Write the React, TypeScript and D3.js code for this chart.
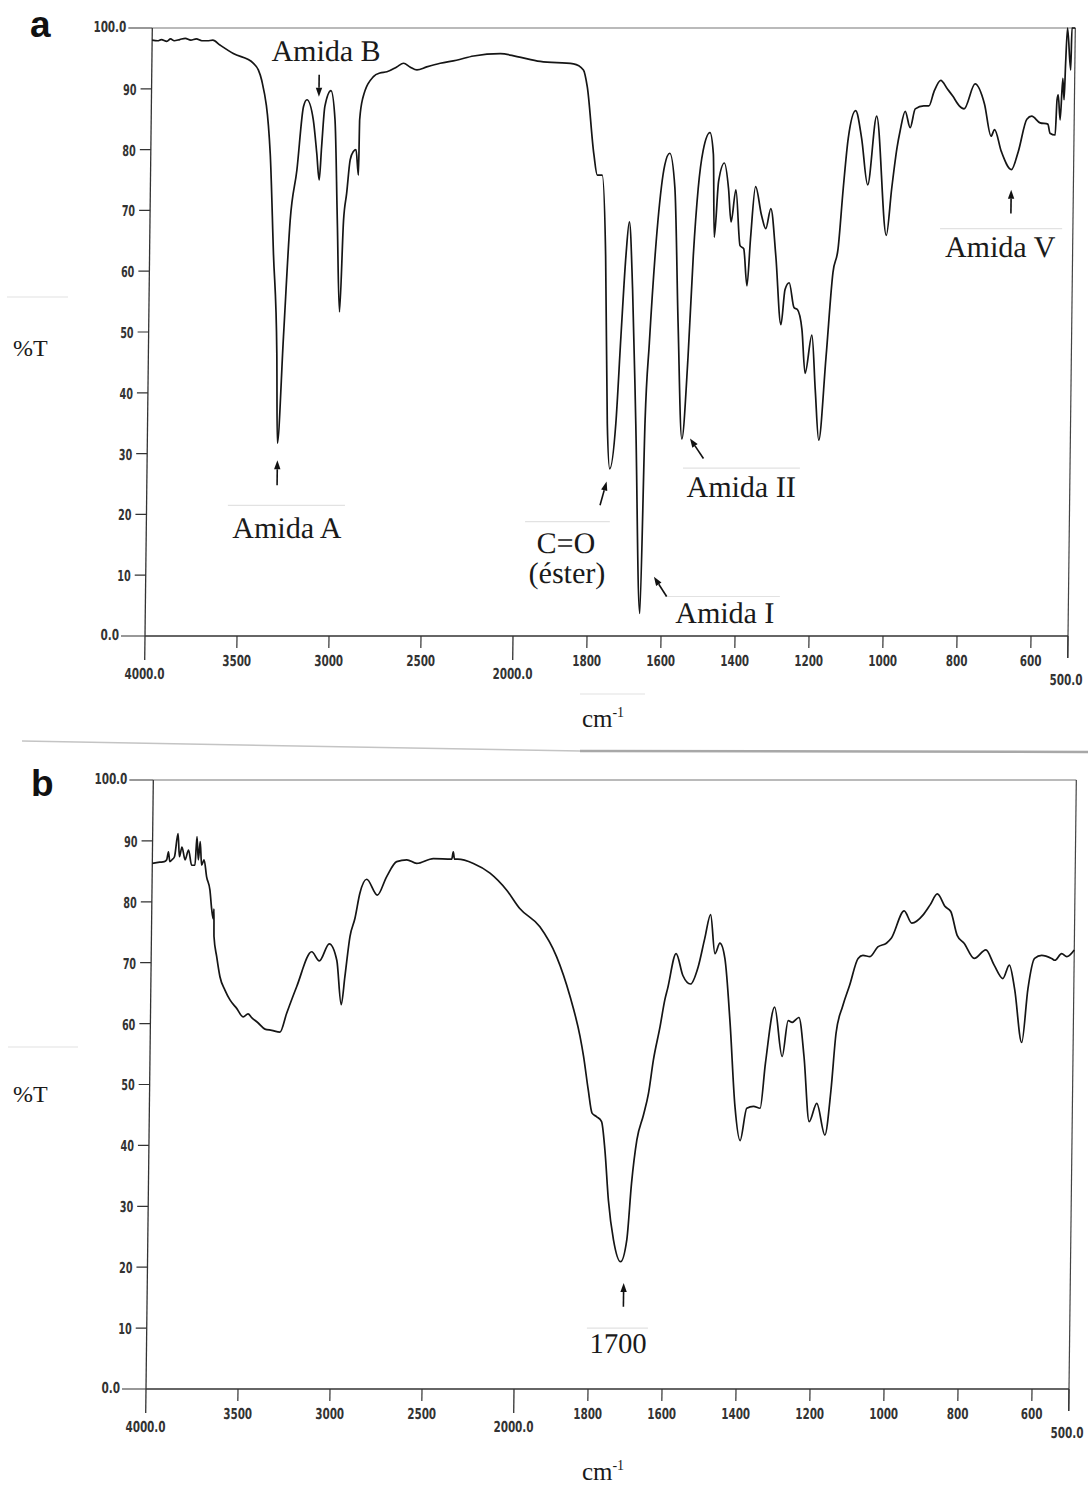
import React from 'react';
import * as d3 from 'd3';

// spectrum a: [wavenumber cm-1, %T]
const spectrumA: [number, number][] = [
  [4000, 98.0], [3970, 97.9], [3950, 98.1], [3920, 97.8], [3900, 98.2], [3880, 97.9], [3850, 98.1],
  [3820, 98.3], [3790, 98.0], [3760, 98.2], [3730, 97.9], [3700, 97.9], [3670, 98.0], [3631, 97.2],
  [3558, 95.8], [3448, 94.2], [3421, 93.1], [3402, 91.4], [3351, 79.4], [3327, 63.0], [3302, 46.5],
  [3293, 31.7], [3267, 49.2], [3238, 68.4], [3205, 76.6], [3173, 87.1], [3155, 88.2], [3119, 84.9],
  [3098, 79.4], [3083, 75.0], [3072, 80.5], [3057, 87.1], [3025, 89.7], [3001, 84.9], [2982, 68.4],
  [2964, 53.3], [2948, 68.4], [2933, 72.8], [2916, 78.3], [2899, 79.7], [2885, 80.0], [2870, 75.8],
  [2867, 84.9], [2852, 88.4], [2795, 92.0], [2760, 92.6], [2722, 92.8], [2669, 93.6], [2632, 94.2],
  [2597, 93.6], [2559, 93.1], [2506, 93.6], [2433, 94.2], [2345, 94.7], [2252, 95.4], [2107, 95.8],
  [2016, 95.3], [1945, 94.5], [1855, 94.1], [1828, 93.1], [1817, 90.3], [1797, 79.2], [1787, 75.8],
  [1774, 75.8], [1762, 62.6], [1752, 34.9], [1744, 27.5], [1729, 34.9], [1718, 49.3], [1707, 62.6],
  [1699, 68.1], [1688, 57.0], [1675, 34.9], [1658, 3.7], [1650, 35.5], [1641, 48.2], [1622, 68.1],
  [1605, 77.5], [1592, 79.4], [1577, 73.7], [1564, 51.5], [1550, 32.4], [1536, 45.9], [1525, 62.6],
  [1514, 73.6], [1502, 79.8], [1484, 82.8], [1474, 79.2], [1469, 65.6], [1459, 74.8], [1444, 77.8],
  [1432, 73.6], [1424, 68.1], [1412, 73.4], [1399, 64.2], [1389, 63.7], [1379, 57.6], [1371, 65.3],
  [1359, 73.9], [1342, 69.2], [1330, 67.0], [1317, 70.3], [1302, 62.5], [1286, 51.2], [1276, 57.0],
  [1265, 58.1], [1251, 54.0], [1242, 53.7], [1229, 50.4], [1219, 43.2], [1202, 49.5], [1191, 40.4],
  [1180, 32.2], [1163, 45.9], [1147, 59.8], [1134, 63.7], [1122, 73.6], [1110, 81.9], [1091, 86.4],
  [1074, 81.9], [1056, 74.2], [1034, 85.5], [1004, 65.9], [991, 73.6], [978, 80.3], [970, 83.1],
  [957, 86.3], [943, 83.6], [930, 86.7], [907, 87.2], [893, 87.2], [880, 89.5], [862, 91.4],
  [844, 90.0], [829, 88.8], [811, 87.2], [798, 86.7], [769, 90.8], [743, 87.5], [724, 82.2],
  [715, 83.3], [696, 79.7], [668, 76.7], [650, 79.7], [628, 85.0], [615, 85.5], [592, 84.4],
  [571, 84.2], [565, 82.7], [551, 82.4], [547, 88.2], [544, 89.0], [538, 84.9], [532, 91.7],
  [528, 88.2], [525, 94.2], [521, 100], [511, 93.1], [509, 100], [500, 100],
];

// spectrum b
const spectrumB: [number, number][] = [
  [4000, 86.3], [3960, 86.5], [3935, 86.6], [3922, 86.9], [3913, 88.2], [3905, 86.6], [3893, 86.9],
  [3880, 87.4], [3862, 91.2], [3853, 87.4], [3840, 89.0], [3822, 86.9], [3804, 88.5], [3786, 86.0],
  [3768, 86.0], [3759, 90.7], [3750, 86.9], [3741, 89.9], [3732, 86.0], [3719, 86.9], [3704, 84.1],
  [3685, 81.9], [3674, 78.7], [3665, 77.2], [3662, 78.8], [3660, 74.3], [3644, 71.0], [3625, 67.7],
  [3597, 65.5], [3569, 63.9], [3532, 62.5], [3496, 61.1], [3470, 61.6], [3450, 61.0], [3414, 60.1],
  [3377, 59.1], [3340, 58.9], [3295, 58.6], [3260, 61.7], [3207, 66.1], [3128, 71.8], [3086, 70.3],
  [3033, 73.1], [2991, 70.4], [2964, 63.1], [2946, 67.7], [2921, 74.3], [2895, 77.3], [2870, 81.4],
  [2834, 83.7], [2775, 81.1], [2726, 84.1], [2672, 86.6], [2617, 86.9], [2563, 86.3], [2473, 87.1],
  [2373, 87.0], [2365, 88.2], [2358, 87.0], [2340, 87.0], [2255, 86.3], [2164, 84.7], [2072, 81.9],
  [2000, 78.9], [1945, 75.9], [1899, 71.0], [1861, 64.4], [1833, 57.9], [1823, 54.7], [1809, 49.1],
  [1798, 45.3], [1785, 44.7], [1772, 43.9], [1762, 39.2], [1751, 31.0], [1736, 24.5], [1716, 20.9],
  [1700, 24.5], [1689, 33.8], [1676, 40.9], [1659, 45.0], [1646, 48.6], [1634, 54.0], [1617, 59.5],
  [1605, 63.9], [1598, 65.7], [1576, 71.5], [1557, 67.9], [1536, 66.5], [1516, 69.3], [1499, 74.0],
  [1484, 77.9], [1471, 71.5], [1458, 73.2], [1444, 70.7], [1428, 60.2], [1412, 46.4], [1397, 40.8],
  [1380, 46.1], [1362, 46.4], [1344, 46.1], [1331, 53.5], [1308, 62.7], [1286, 54.6], [1271, 60.5],
  [1260, 60.2], [1242, 61.0], [1227, 54.6], [1211, 43.9], [1191, 46.9], [1168, 41.7], [1153, 49.1],
  [1141, 58.5], [1124, 62.9], [1106, 66.3], [1084, 70.7], [1071, 71.2], [1052, 71.0], [1031, 72.6],
  [1008, 73.2], [995, 74.0], [961, 78.5], [940, 76.5], [909, 77.9], [891, 79.5], [872, 81.3],
  [850, 79.2], [835, 78.4], [817, 74.5], [798, 73.2], [770, 70.7], [739, 72.1], [716, 69.6],
  [692, 67.4], [675, 69.6], [660, 65.7], [639, 56.9], [624, 65.7], [607, 70.7], [588, 71.2],
  [561, 70.7], [552, 70.4], [534, 71.5], [520, 71.0], [500, 72.1],
];

const xMinorTicks = [3500, 3000, 2500, 1800, 1600, 1400, 1200, 1000, 800, 600];
const xMajorTicks = [4000, 2000, 500];
const xMajorLabels = ['4000.0', '2000.0', '500.0'];
const yMinorTicks = [10, 20, 30, 40, 50, 60, 70, 80, 90];
const yMajorTicks = [0, 100];
const yMajorLabels = ['0.0', '100.0'];

// band labels, in data coordinates (wavenumber, %T)
const labelsA = [
  { text: 'Amida B', wn: 3054, t: 94.6 },
  { text: 'Amida A', wn: 3235, t: 16.1 },
  { text: 'C=O', wn: 1860, t: 13.6 },
  { text: '(éster)', wn: 1856, t: 8.7 },
  { text: 'Amida II', wn: 1388, t: 22.9 },
  { text: 'Amida I', wn: 1428, t: 2.1 },
  { text: 'Amida V', wn: 696, t: 62.3 },
];
const arrowsA: [number, number, number, number][] = [
  [3090, 92.3, 3090, 88.7],
  [3292, 24.8, 3292, 28.9],
  [1769, 21.5, 1752, 25.4],
  [1491, 29.2, 1528, 32.5],
  [1586, 6.5, 1621, 9.75],
  [668, 69.5, 668, 73.4],
];
const rulesA: [number, number, number][] = [
  [3558, 2922, 21.5],
  [1971, 1742, 18.8],
  [1546, 1230, 27.6],
  [1591, 1280, 6.5],
  [859, 529, 67],
];
const labelsB = [{ text: '1700', wn: 1720, t: 5.9 }];
const arrowsB: [number, number, number, number][] = [[1707, 13.5, 1707, 17.4]];
const rulesB: [number, number, number][] = [[1805, 1640, 10]];

const SKEW = 0.012; // the scanned page leans a little

function labelLen(s: string) {
  let n = 0;
  for (const c of s) n += c === '.' ? 4 : 7.2;
  return n;
}

function Panel({ data, xRange, yRange, labels, arrows, rules }: any) {
  const x = d3.scaleLinear().domain([4000, 2000, 500]).range(xRange);
  const y = d3.scaleLinear().domain([0, 100]).range(yRange);
  const y0 = y(0), yTop = y(100), x0 = x(4000), xEnd = x(500);
  const path = d3.line<[number, number]>()
    .x(d => x(d[0]))
    .y(d => y(d[1]))
    .curve(d3.curveMonotoneX)(data);
  const deg = -Math.atan(SKEW) * 180 / Math.PI;
  const tf = `translate(0,${y0}) skewX(${deg}) translate(0,${-y0})`;
  const tick = {
    fontFamily: 'DejaVu Sans, sans-serif', fontSize: 15, fontWeight: 600, fill: '#333',
    lengthAdjust: 'spacingAndGlyphs' as const,
  };
  const axis = '#333';

  return (
    <g transform={tf}>
      {/* frame */}
      <line x1={x0} x2={xEnd} y1={yTop} y2={yTop} stroke="#777" strokeWidth={1} />
      <line x1={xEnd} x2={xEnd} y1={yTop} y2={y0 + 22} stroke="#444" strokeWidth={1.2} />
      <line x1={x0} x2={x0} y1={yTop} y2={y0} stroke={axis} strokeWidth={1.3} />
      <line x1={x0} x2={xEnd} y1={y0} y2={y0} stroke={axis} strokeWidth={1.3} />

      {/* y axis */}
      {yMinorTicks.map(v => (
        <g key={'y' + v}>
          <line x1={x0 - 11} x2={x0} y1={y(v)} y2={y(v)} stroke={axis} strokeWidth={1.2} />
          <text x={x0 - 15} y={y(v) + 6} textAnchor="end" textLength={labelLen(String(v)) - 1} {...tick}>{v}</text>
        </g>
      ))}
      {yMajorTicks.map((v, i) => (
        <g key={'Y' + v}>
          <line x1={x0 - 24} x2={x0} y1={y(v)} y2={y(v)} stroke={axis} strokeWidth={1.2} />
          <text x={x0 - 26} y={y(v) + 4} textAnchor="end" textLength={labelLen(yMajorLabels[i])} {...tick}>{yMajorLabels[i]}</text>
        </g>
      ))}

      {/* x axis */}
      {xMinorTicks.map(v => (
        <g key={'x' + v}>
          <line x1={x(v)} x2={x(v)} y1={y0} y2={y0 + 12} stroke={axis} strokeWidth={1.2} />
          <text x={x(v)} y={y0 + 30} textAnchor="middle" textLength={labelLen(String(v))} {...tick}>{v}</text>
        </g>
      ))}
      {xMajorTicks.map((v, i) => (
        <g key={'X' + v}>
          <line x1={x(v)} x2={x(v)} y1={y0} y2={v === 500 ? y0 + 22 : y0 + 24} stroke={axis} strokeWidth={1.3} />
          <text x={v === 500 ? x(v) + 15 : x(v)} y={v === 500 ? y0 + 49 : y0 + 43}
            textAnchor={v === 500 ? 'end' : 'middle'}
            textLength={labelLen(xMajorLabels[i])} {...tick}>{xMajorLabels[i]}</text>
        </g>
      ))}

      {/* faint paste marks under the labels */}
      {rules.map((r: number[], i: number) => (
        <line key={'r' + i} x1={x(r[0])} x2={x(r[1])} y1={y(r[2])} y2={y(r[2])} stroke="#e2e2e2" strokeWidth={1.2} />
      ))}

      <path d={path || ''} fill="none" stroke="#151515" strokeWidth={1.7} strokeLinejoin="round" />

      {arrows.map((a: number[], i: number) => {
        const ax1 = x(a[0]), ay1 = y(a[1]), ax2 = x(a[2]), ay2 = y(a[3]);
        const dx = ax2 - ax1, dy = ay2 - ay1, len = Math.hypot(dx, dy);
        const ux = dx / len, uy = dy / len;
        const bx = ax2 - ux * 9, by = ay2 - uy * 9;
        const pts = [[ax2, ay2], [bx - uy * 3.2, by + ux * 3.2], [bx + uy * 3.2, by - ux * 3.2]];
        return (
          <g key={'a' + i}>
            <line x1={ax1} y1={ay1} x2={bx} y2={by} stroke="#111" strokeWidth={1.6} />
            <polygon points={pts.map(p => p.join(',')).join(' ')} fill="#111" />
          </g>
        );
      })}

      {labels.map((l: any, i: number) => (
        <text key={'l' + i} x={x(l.wn)} y={y(l.t)} textAnchor="middle"
          fontFamily="Liberation Serif, serif" fontSize={l.text === '1700' ? 28.5 : 30} fill="#1a1a1a">{l.text}</text>
      ))}
    </g>
  );
}

export default function App() {
  const serif = 'Liberation Serif, serif';
  return (
    <svg width={1088} height={1485} viewBox="0 0 1088 1485"
      style={{ position: 'absolute', left: 0, top: 0, display: 'block', background: '#fff' }}>
      <rect width={1088} height={1485} fill="#fff" />

      <Panel data={spectrumA} xRange={[145, 513, 1068]} yRange={[636, 28]}
        labels={labelsA} arrows={arrowsA} rules={rulesA} />
      <Panel data={spectrumB} xRange={[146, 514, 1069]} yRange={[1389, 780]}
        labels={labelsB} arrows={arrowsB} rules={rulesB} />

      {/* panel letters */}
      <text x={30} y={37} fontFamily="Liberation Sans, Arial, sans-serif" fontWeight="bold" fontSize={37} fill="#111">a</text>
      <text x={31} y={796} fontFamily="Liberation Sans, Arial, sans-serif" fontWeight="bold" fontSize={37} fill="#111">b</text>

      {/* axis titles */}
      <line x1={7} x2={68} y1={297} y2={297} stroke="#e2e2e2" strokeWidth={1.2} />
      <text x={13} y={356} fontFamily={serif} fontSize={24} fill="#1a1a1a">%T</text>
      <line x1={8} x2={78} y1={1047} y2={1047} stroke="#e2e2e2" strokeWidth={1.2} />
      <text x={13} y={1102} fontFamily={serif} fontSize={24} fill="#1a1a1a">%T</text>

      <line x1={580} x2={645} y1={694} y2={694} stroke="#e2e2e2" strokeWidth={1.2} />
      <text x={603} y={727} textAnchor="middle" fontFamily={serif} fontSize={25} fill="#1a1a1a">
        cm<tspan fontSize={14} dy={-10}>-1</tspan>
      </text>
      <text x={603} y={1480} textAnchor="middle" fontFamily={serif} fontSize={25} fill="#1a1a1a">
        cm<tspan fontSize={14} dy={-10}>-1</tspan>
      </text>

      {/* scanner seam between the two panels */}
      <path d="M22,741 L580,751" stroke="#c4c4c4" strokeWidth={1.5} fill="none" />
      <path d="M580,751 L1088,752" stroke="#a8a8a8" strokeWidth={2.5} fill="none" />
    </svg>
  );
}
